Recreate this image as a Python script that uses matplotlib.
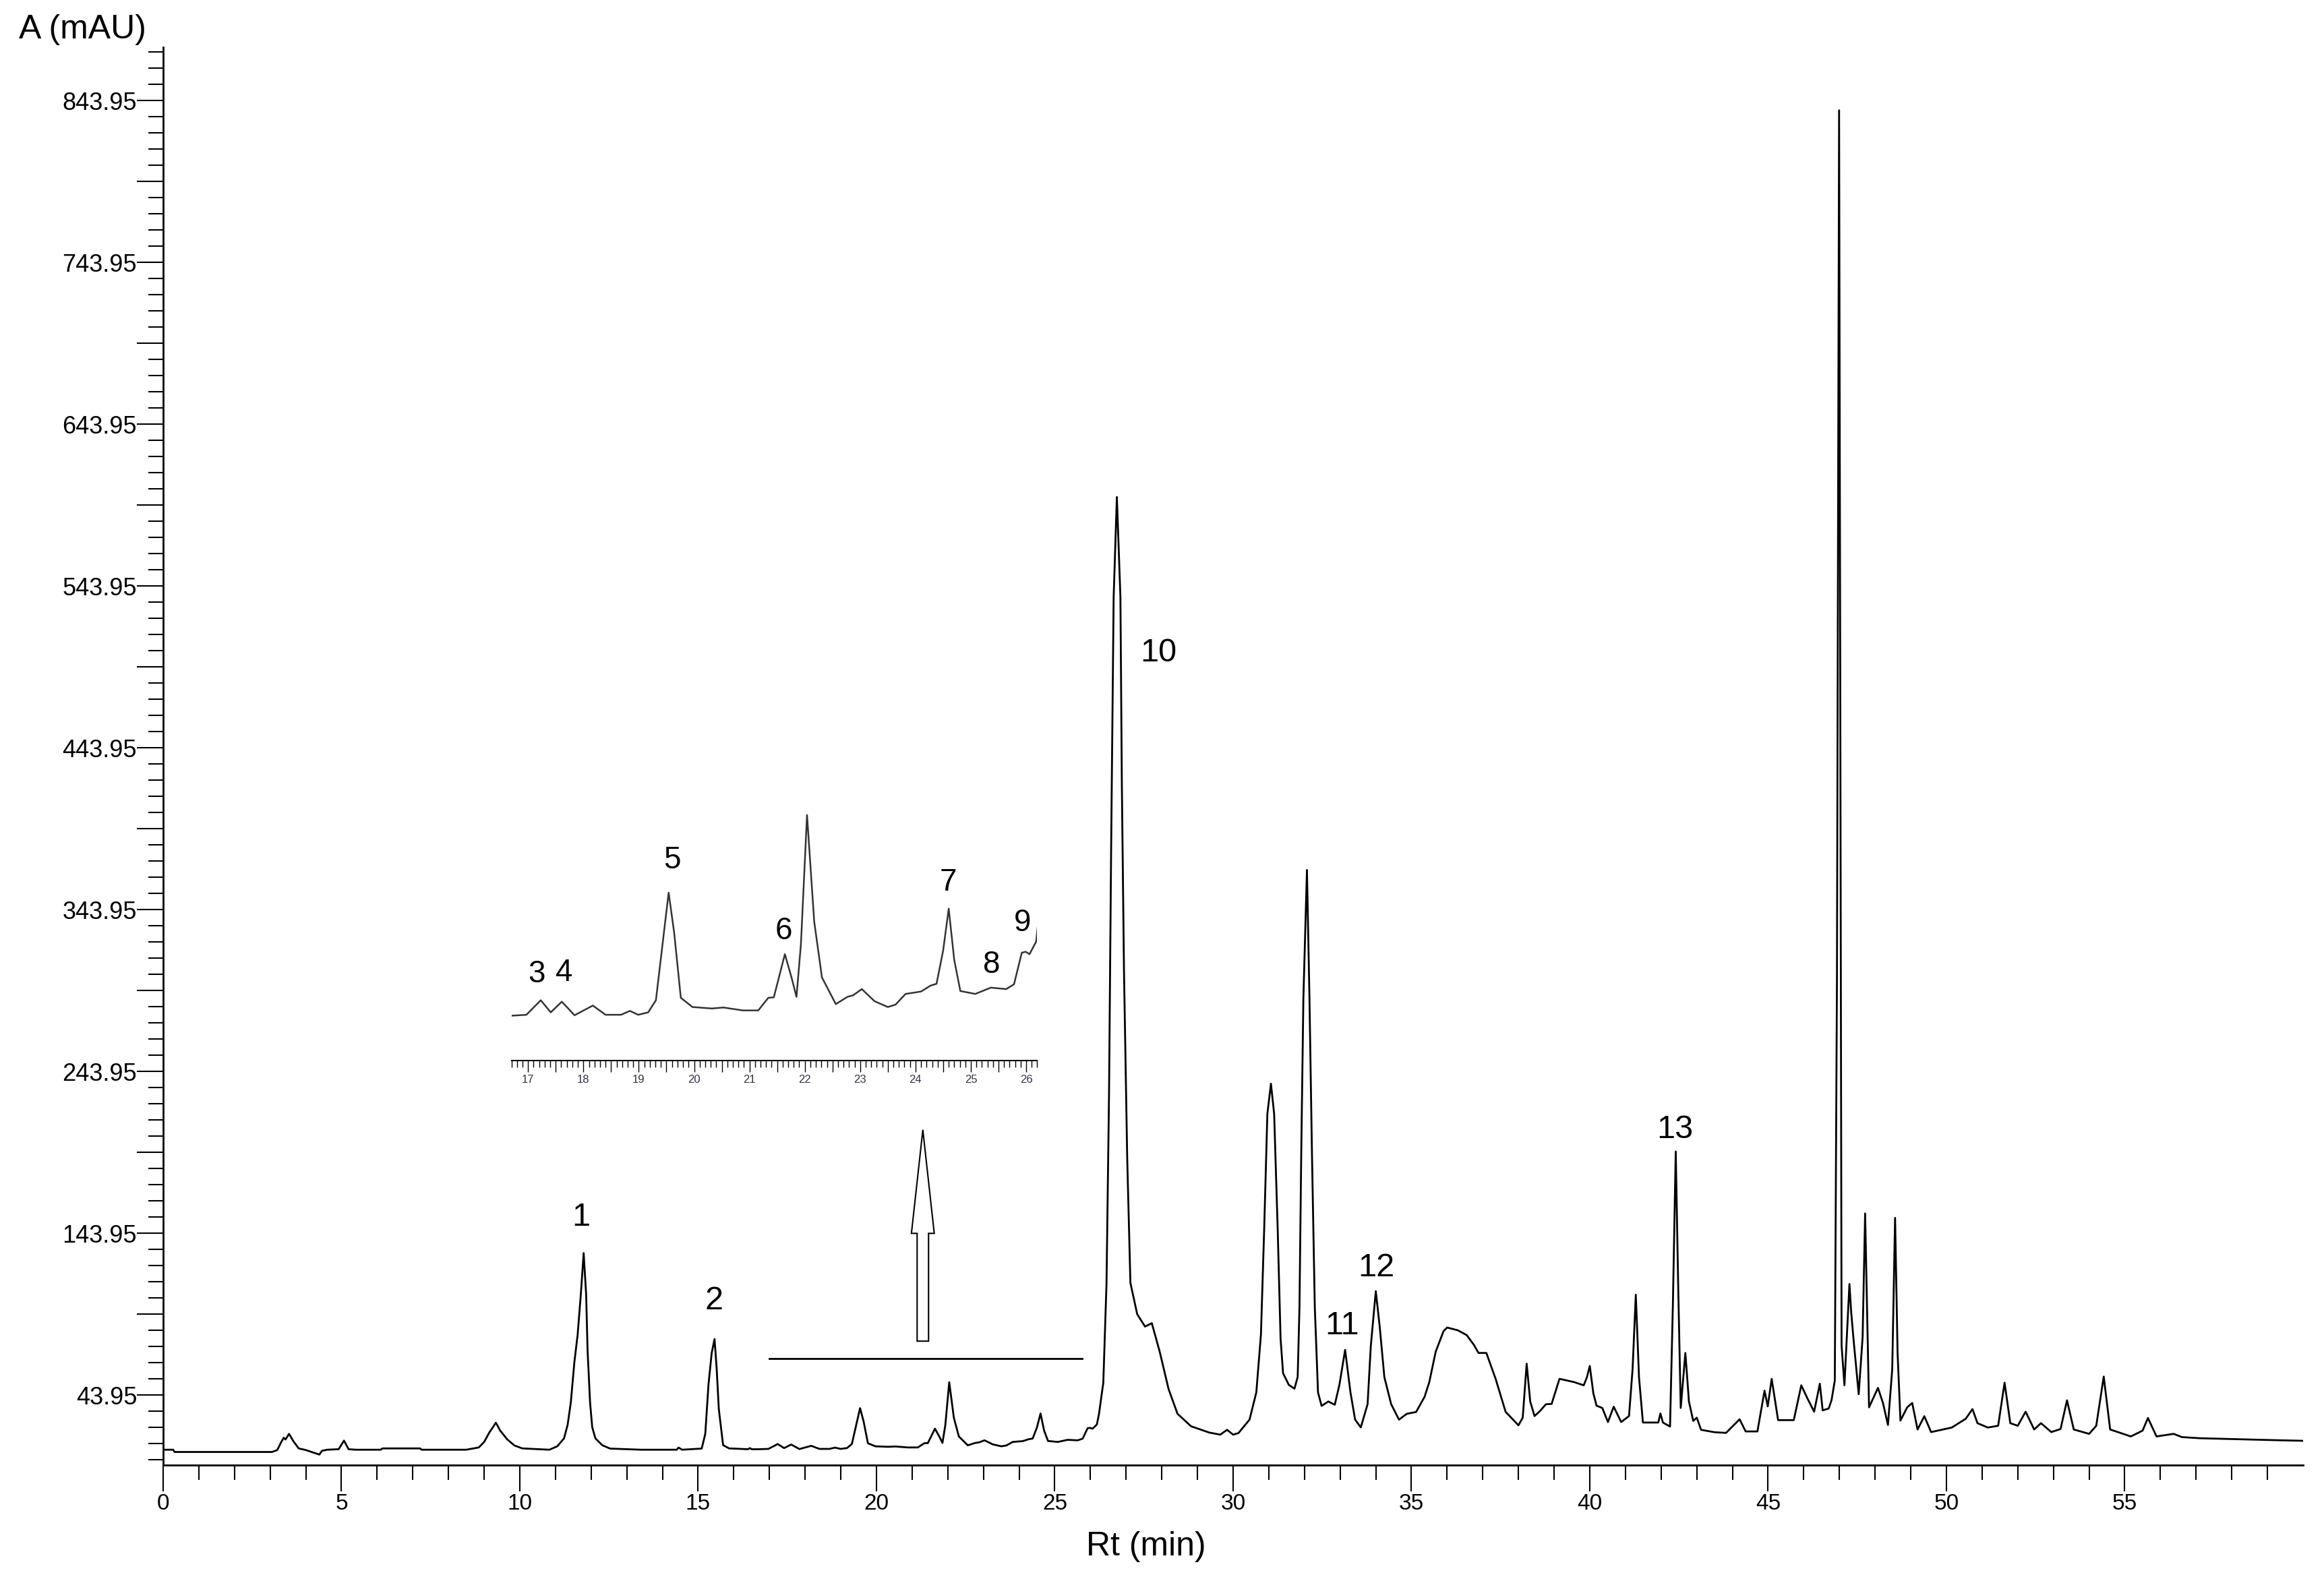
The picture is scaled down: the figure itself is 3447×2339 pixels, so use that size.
import numpy as np
import matplotlib
matplotlib.use('Agg')
import matplotlib.pyplot as plt
from matplotlib.patches import FancyArrow
from matplotlib.ticker import FixedLocator, MultipleLocator, FuncFormatter

plt.rcParams['font.family'] = ['Liberation Sans', 'DejaVu Sans']

# chromatogram: retention time (min) / absorbance (mAU)
rt_early = [0.0, 0.28, 0.32, 3.05, 3.2, 3.3, 3.38, 3.43, 3.53, 3.65, 3.8, 4.0, 4.2, 4.38,
            4.45, 4.6, 4.92, 5.07, 5.2, 5.4, 6.1, 6.15, 7.2, 7.25, 8.5, 8.85, 9.0, 9.15,
            9.33, 9.45, 9.65, 9.85, 10.07, 10.83, 11.05, 11.24, 11.34, 11.43, 11.53, 11.62,
            11.71, 11.79, 11.86, 11.9, 11.97, 12.03, 12.12, 12.31, 12.53, 13.4, 14.4, 14.45,
            14.55, 15.1, 15.2, 15.29, 15.38, 15.46, 15.52, 15.58, 15.7, 15.87, 16.4, 16.45,
            16.5]
abs_early = [10.2, 10.2, 8.8, 8.8, 10.0, 14.5, 17.6, 16.5, 20.0, 15.5, 11.0, 10.0, 8.5, 7.2,
             9.5, 10.2, 10.5, 15.8, 10.5, 10.2, 10.2, 11.0, 11.0, 10.2, 10.2, 11.6, 15.0, 21.0,
             26.9, 22.0, 16.5, 12.8, 11.0, 10.2, 12.3, 17.2, 25.5, 39.4, 64.4, 81.0,
             106.0, 131.7, 106.0, 71.4, 39.4, 24.1, 17.2, 13.0, 10.9, 10.2, 10.2, 11.5,
             10.2, 10.9, 20.0, 50.5, 70.0, 78.6, 60.0, 35.2, 13.0, 11.0, 10.5, 11.2,
             10.5]

rt_mid = [16.69, 16.97, 17.23, 17.41, 17.61, 17.84, 18.17, 18.4, 18.68, 18.84, 18.99, 19.17,
          19.31, 19.43, 19.54, 19.64, 19.76, 19.97, 20.32, 20.53, 20.88, 21.16, 21.34, 21.44,
          21.64, 21.76, 21.85, 21.93, 22.04, 22.17, 22.31, 22.56, 22.77, 22.87, 23.03, 23.26,
          23.5, 23.64, 23.82, 24.1, 24.27, 24.38, 24.5, 24.6, 24.7, 24.81, 25.08, 25.36,
          25.64, 25.78, 25.92, 25.99, 26.06, 26.18]
abs_mid = [10.5, 10.7, 13.7, 11.2, 13.4, 10.6, 12.6, 10.7, 10.7, 11.5, 10.7, 11.2,
           13.7, 25.3, 35.9, 27.6, 14.2, 12.3, 12.0, 12.2, 11.6, 11.6, 14.2, 14.3,
           23.2, 18.4, 14.4, 25.3, 51.9, 29.9, 18.4, 12.9, 14.4, 14.7, 16.0, 13.5,
           12.3, 12.8, 15.0, 15.5, 16.7, 17.1, 24.0, 32.6, 22.0, 15.6, 15.0, 16.3,
           16.0, 17.0, 23.5, 23.7, 23.2, 25.8]

rt_late = [26.24, 26.36, 26.45, 26.52, 26.58, 26.65, 26.74, 26.84, 26.88, 26.94, 27.03, 27.12,
           27.31, 27.53, 27.72, 27.94, 28.19, 28.44, 28.82, 29.33, 29.64, 29.83, 30.0, 30.15,
           30.46, 30.65, 30.78, 30.87, 30.96, 31.06, 31.15, 31.25, 31.33, 31.4, 31.56, 31.72,
           31.81, 31.86, 31.91, 31.97, 32.07, 32.14, 32.21, 32.29, 32.38, 32.48, 32.67, 32.85,
           32.98, 33.14, 33.29, 33.42, 33.58, 33.77, 33.86, 34.0, 34.11, 34.24, 34.43, 34.65,
           34.87, 35.13, 35.37, 35.5, 35.68, 35.9, 36.0, 36.3,
           36.55, 36.75, 36.88, 37.1, 37.36, 37.64, 38.0, 38.12, 38.23, 38.33, 38.45, 38.6,
           38.77, 38.93, 39.15, 39.56, 39.83, 39.92, 40.0, 40.1, 40.19, 40.35, 40.51, 40.67,
           40.88, 41.1, 41.2, 41.29, 41.38, 41.49, 41.92, 41.98, 42.05, 42.25, 42.33, 42.41,
           42.48, 42.55, 42.68, 42.78, 42.9, 43.0, 43.12, 43.5, 43.82, 44.2, 44.37, 44.7,
           44.9, 44.99, 45.1, 45.28, 45.72, 45.93, 46.1, 46.29, 46.45, 46.53, 46.7, 46.78,
           46.87, 46.93, 46.99, 47.03, 47.06, 47.14, 47.28, 47.33, 47.4, 47.54, 47.65, 47.72,
           47.78, 47.83, 48.08, 48.22, 48.36, 48.48, 48.56, 48.63, 48.71, 48.9, 49.04, 49.19,
           49.38, 49.57, 50.15, 50.54, 50.73, 50.87, 51.16, 51.45, 51.63, 51.79, 52.0, 52.22,
           52.46, 52.65, 52.94, 53.2, 53.38, 53.57, 54.0, 54.2, 54.41, 54.59, 55.17, 55.5,
           55.65, 55.89, 56.37, 56.6, 57.1, 59.03, 60.0]
abs_late = [32.4, 51.6, 113.0, 229.0, 383.0, 537.0, 599.0, 537.0, 421.6, 306.0, 190.4, 113.3,
            94.0, 86.3, 88.4, 70.9, 47.7, 32.4, 24.7, 20.8, 19.5, 22.5, 19.5, 20.5,
            28.8, 45.6, 81.5, 146.0, 217.8, 236.4, 217.8, 146.0, 79.0, 57.5, 50.3, 47.9,
            55.2, 98.2, 193.8, 289.5, 368.5, 289.5, 193.8, 98.2, 45.6, 37.3, 40.0, 38.0,
            50.3, 71.9, 45.6, 28.8, 24.0, 38.4, 74.2, 108.2, 86.2, 55.1, 38.4, 28.8,
            32.4, 33.5, 43.0, 52.0, 70.8, 83.5, 85.7, 84.0,
            81.0, 75.0, 70.0, 70.0, 54.0, 33.6, 25.3, 30.0, 63.4, 40.0, 31.0, 34.0,
            38.3, 38.5, 54.0, 52.0, 50.0, 55.0, 62.0, 45.0, 37.4, 36.0, 27.3, 36.8,
            27.3, 31.0, 60.0, 106.0, 55.0, 27.0, 27.0, 32.6, 27.0, 24.5, 100.0, 194.5,
            110.0, 36.0, 70.0, 40.0, 28.0, 30.0, 22.5, 21.0, 20.6, 29.0, 21.5, 21.5,
            46.7, 37.0, 54.0, 28.5, 28.5, 50.0, 42.0, 33.7, 51.0, 34.5, 35.7, 41.0,
            53.0, 300.0, 838.0, 400.0, 74.6, 50.0, 112.6, 95.0, 77.2, 44.5, 80.0, 156.2,
            90.0, 36.4, 48.4, 39.1, 25.5, 60.0, 153.5, 70.0, 28.2, 36.4, 39.1, 22.7,
            30.9, 21.1, 23.9, 29.3, 35.3, 26.6, 23.9, 25.0, 51.6, 26.6, 25.0, 33.7,
            22.7, 26.6, 21.1, 23.0, 40.7, 22.7, 20.0, 25.0, 55.4, 22.7, 18.4, 22.0,
            29.8, 18.4, 20.0, 18.0, 17.3, 16.2, 15.7]

# numbered peaks on the main trace
peak_names = ['1', '2', '10', '11', '12', '13']
peak_x = [11.72, 15.44, 27.91, 33.06, 34.02, 42.39]
peak_y = [154.0, 102.2, 502.8, 86.7, 122.5, 208.1]

# numbered peaks in the enlarged view
inset_names = ['3', '4', '5', '6', '7', '8', '9']
inset_x = [17.16, 17.65, 19.6, 21.62, 24.59, 25.38, 25.93]
inset_y = [19.1, 19.4, 42.6, 28.0, 37.95, 21.0, 29.6]

# bracket under the enlarged region and the arrow pointing to it
bracket_rt = [17.0, 25.76]
bracket_level = 66.5
arrow_rt = 21.3
arrow_from, arrow_to = 77.3, 207.9

y_labelled = [43.95 + 100 * k for k in range(9)]
y_half = [93.95 + 100 * k for k in range(8)]

rt = np.array(rt_early + rt_mid + rt_late)
absorb = np.array(abs_early + abs_mid + abs_late)

W, H = 3448, 2339
fig = plt.figure(figsize=(W / 100, H / 100), dpi=100)
ax = fig.add_axes([242 / W, (H - 2173) / H, (3416 - 242) / W, (2173 - 70) / H])
ax.plot(rt, absorb, color='black', lw=2.0)
ax.set_xlim(0, 60)
ax.set_ylim(0.7, 877)

for s in ['top', 'right']:
    ax.spines[s].set_visible(False)
for s in ['left', 'bottom']:
    ax.spines[s].set_linewidth(2.0)

yt = sorted(y_labelled + y_half)
ax.set_yticks(yt)
ax.set_yticklabels([f'{v:.2f}' if v in y_labelled else '' for v in yt])
ax.yaxis.set_minor_locator(FixedLocator([3.95 + 10 * k for k in range(88) if (k - 4) % 5 != 0]))
ax.set_xticks(range(0, 60, 5))
ax.xaxis.set_minor_locator(FixedLocator([k for k in range(60) if k % 5 != 0]))
ax.tick_params(which='major', length=28, width=1.5)
ax.tick_params(which='minor', length=16, width=1.5)
ax.tick_params(axis='y', labelsize=26, pad=0)
ax.tick_params(axis='x', labelsize=24, pad=2)

for name, x, y in zip(peak_names, peak_x, peak_y):
    ax.text(x, y, name, fontsize=35, ha='center', va='center')

ax.plot(bracket_rt, [bracket_level, bracket_level], color='black', lw=2.0)
ax.add_patch(FancyArrow(arrow_rt, arrow_from, 0, arrow_to - arrow_from, width=0.32,
                        head_width=0.64, head_length=64, length_includes_head=True,
                        facecolor='white', edgecolor='black', lw=1.5))

fig.text(28 / W, 1 - 57 / H, 'A (mAU)', fontsize=36, ha='left', va='baseline')
fig.text(1700 / W, (H - 2307) / H, 'Rt (min)', fontsize=36, ha='center', va='baseline')

# enlarged view of 17-26 min
axin = fig.add_axes([758.6 / W, (H - 1572.7) / H, 779.9 / W, 371.7 / H])
axin.patch.set_alpha(0)
axin.plot(rt, absorb, color='#333333', lw=1.8)
axin.set_xlim(16.7, 26.2)
axin.set_ylim(1.3, 53.0)
for s in ['top', 'right', 'left']:
    axin.spines[s].set_visible(False)
axin.spines['bottom'].set_linewidth(1.5)
axin.set_yticks([])
axin.xaxis.set_major_locator(MultipleLocator(0.5))
axin.xaxis.set_minor_locator(MultipleLocator(0.1))
axin.xaxis.set_major_formatter(FuncFormatter(
    lambda v, p: f'{v:.0f}' if abs(v - round(v)) < 1e-6 else ''))
axin.tick_params(which='major', length=12, width=1.0, labelsize=12, pad=3,
                 labelcolor='#333344')
axin.tick_params(which='minor', length=7.5, width=1.0)
for name, x, y in zip(inset_names, inset_x, inset_y):
    axin.text(x, y, name, fontsize=33, ha='center', va='center')

fig.savefig('out.png', dpi=100)
